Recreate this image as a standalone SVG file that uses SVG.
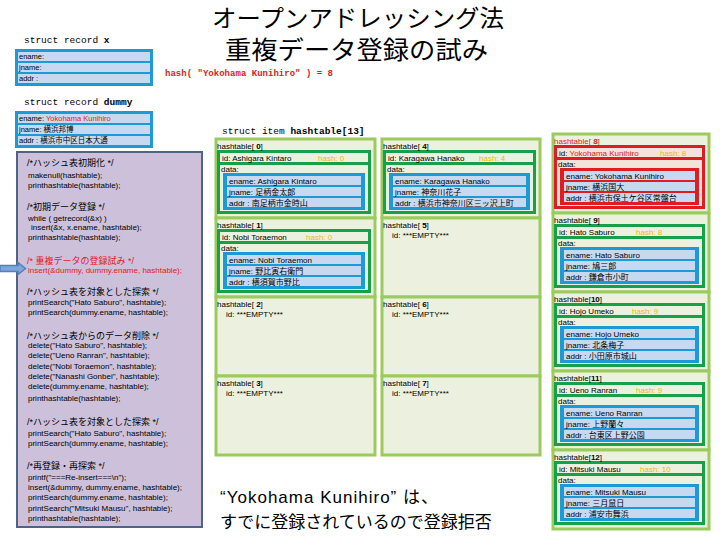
<svg xmlns="http://www.w3.org/2000/svg" width="720" height="540" viewBox="0 0 720 540">
<style>
.s{font-family:"Liberation Sans","Noto Sans CJK JP",sans-serif;fill:#000}
.m{font-family:"Liberation Mono","Noto Sans CJK JP",monospace;fill:#000}
.j{font-family:"Noto Sans CJK JP",sans-serif;fill:#000}
.ct{font-size:8px}
.cm{font-size:9px}
.cell{fill:#ebf1de;stroke:#9bcb5c;stroke-width:3}
.gb{fill:#ebf1de;stroke:#16a04a;stroke-width:3}
.gs{stroke:#16a04a;stroke-width:3}
.rb{fill:#f4e3d8;stroke:#e01b22;stroke-width:3}
.rs{stroke:#e01b22;stroke-width:3}
.bb{fill:#1c9ad6}
.rr{fill:#e01b22}
.row{fill:#c6d9f1}
.tx{font-size:8px}
.hs{fill:#f2b705}
.red{fill:#e01b22}
.code{fill:#ccc0da;stroke:#4e6486;stroke-width:2}
</style>
<rect width="720" height="540" fill="#fff"/>

<g id="title">
<text class="j" x="212" y="27" font-size="24" textLength="292" lengthAdjust="spacingAndGlyphs">オープンアドレッシング法</text>
<text class="j" x="225" y="59" font-size="25" textLength="263" lengthAdjust="spacingAndGlyphs">重複データ登録の試み</text>
<text class="m red" x="165" y="76" font-size="9" font-weight="bold" textLength="168">hash( "Yokohama Kunihiro" ) = 8</text>
</g>

<g id="record_x">
<text class="m" x="24" y="43" font-size="9.5">struct record <tspan font-weight="bold">x</tspan></text>
<rect class="bb" x="15" y="49" width="138" height="37"/>
<rect class="row" x="18" y="52" width="132" height="9"/>
<rect class="row" x="18" y="63" width="132" height="9"/>
<rect class="row" x="18" y="74" width="132" height="9"/>
<text class="s" x="19" y="59" font-size="7.5">ename:</text>
<text class="s" x="19" y="70" font-size="7.5">jname:</text>
<text class="s" x="19" y="81" font-size="7.5">addr :</text>
</g>

<g id="record_dummy">
<text class="m" x="24" y="105" font-size="9.5">struct record <tspan font-weight="bold">dummy</tspan></text>
<rect class="bb" x="15" y="111" width="138" height="37"/>
<rect class="row" x="18" y="114" width="132" height="9"/>
<rect class="row" x="18" y="125" width="132" height="9"/>
<rect class="row" x="18" y="136" width="132" height="9"/>
<text class="s" x="19" y="121" font-size="7.5">ename: <tspan class="red">Yokohama Kunihiro</tspan></text>
<text class="s" x="19" y="132" font-size="7.5">jname: 横浜邦博</text>
<text class="s" x="19" y="143" font-size="7.5">addr : 横浜市中区日本大通</text>
</g>

<g id="code">
<rect class="code" x="17" y="152" width="185" height="375"/>
<text class="s cm" x="27" y="166">/*ハッシュ表初期化 */</text>
<text class="s ct" x="28" y="178">makenull(hashtable);</text>
<text class="s ct" x="28" y="187.5">printhashtable(hashtable);</text>
<text class="s cm" x="27" y="209.5">/*初期データ登録 */</text>
<text class="s ct" x="28" y="220.5">while ( getrecord(&amp;x) )</text>
<text class="s ct" x="31" y="230">insert(&amp;x, x.ename, hashtable);</text>
<text class="s ct" x="28" y="240">printhashtable(hashtable);</text>
<text class="s cm red" x="27" y="263.5">/* 重複データの登録試み */</text>
<text class="s ct red" x="28" y="273">insert(&amp;dummy, dummy.ename, hashtable);</text>
<text class="s cm" x="27" y="295">/*ハッシュ表を対象とした探索 */</text>
<text class="s ct" x="28" y="305">printSearch("Hato Saburo", hashtable);</text>
<text class="s ct" x="28" y="315">printSearch(dummy.ename, hashtable);</text>
<text class="s cm" x="27" y="338.5">/*ハッシュ表からのデータ削除 */</text>
<text class="s ct" x="28" y="348">delete("Hato Saburo", hashtable);</text>
<text class="s ct" x="28" y="358">delete("Ueno Ranran", hashtable);</text>
<text class="s ct" x="28" y="368.5">delete("Nobi Toraemon", hashtable);</text>
<text class="s ct" x="28" y="379">delete("Nanashi Gonbei", hashtable);</text>
<text class="s ct" x="28" y="389">delete(dummy.ename, hashtable);</text>
<text class="s ct" x="28" y="401">printhashtable(hashtable);</text>
<text class="s cm" x="27" y="425">/*ハッシュ表を対象とした探索 */</text>
<text class="s ct" x="28" y="435.5">printSearch("Hato Saburo", hashtable);</text>
<text class="s ct" x="28" y="446">printSearch(dummy.ename, hashtable);</text>
<text class="s cm" x="27" y="468.5">/*再登録・再探索 */</text>
<text class="s ct" x="28" y="479.5">printf("===Re-insert===\n");</text>
<text class="s ct" x="28" y="489.5">insert(&amp;dummy, dummy.ename, hashtable);</text>
<text class="s ct" x="28" y="500">printSearch(dummy.ename, hashtable);</text>
<text class="s ct" x="28" y="510.5">printSearch("Mitsuki Mausu", hashtable);</text>
<text class="s ct" x="28" y="521">printhashtable(hashtable);</text>
</g>

<g id="connectors">
<polygon points="0,265.5 18,265.5 18,262.5 25.5,268.5 18,274.5 18,271.5 0,271.5" fill="#7fa6d6" stroke="#4f81bd" stroke-width="1.5"/>
</g>

<g id="hashtable_header">
<text class="m" x="222" y="134" font-size="9.5">struct item <tspan font-weight="bold">hashtable[13]</tspan></text>
</g>

<!-- Column 1 -->
<g id="ht0" transform="translate(215,139)">
<rect class="cell" x="1" y="0" width="159" height="79"/>
<rect class="gb" x="3.5" y="12.5" width="151" height="61"/>
<line class="gs" x1="2" y1="24.5" x2="156" y2="24.5"/>
<rect class="bb" x="8" y="34" width="142" height="37"/>
<rect class="row" x="12" y="37" width="134" height="9"/>
<rect class="row" x="12" y="48" width="134" height="9"/>
<rect class="row" x="12" y="59" width="134" height="9"/>
<text class="s tx" x="2" y="9.5">hashtable[ <tspan font-weight="bold">0</tspan>]</text>
<text class="s tx" x="7" y="21.5">id: Ashigara Kintaro</text>
<text class="s tx hs" x="103" y="21.5">hash: 0</text>
<text class="s tx" x="6" y="32.5">data:</text>
<text class="s tx" x="14" y="44.5">ename: Ashigara Kintaro</text>
<text class="s tx" x="14" y="55.5">jname: 足柄金太郎</text>
<text class="s tx" x="14" y="66.5">addr : 南足柄市金時山</text>
</g>
<g id="ht1" transform="translate(215,218)">
<rect class="cell" x="1" y="0" width="159" height="79"/>
<rect class="gb" x="3.5" y="12.5" width="151" height="61"/>
<line class="gs" x1="2" y1="24.5" x2="156" y2="24.5"/>
<rect class="bb" x="8" y="34" width="142" height="37"/>
<rect class="row" x="12" y="37" width="134" height="9"/>
<rect class="row" x="12" y="48" width="134" height="9"/>
<rect class="row" x="12" y="59" width="134" height="9"/>
<text class="s tx" x="2" y="9.5">hashtable[ <tspan font-weight="bold">1</tspan>]</text>
<text class="s tx" x="7" y="21.5">id: Nobi Toraemon</text>
<text class="s tx hs" x="91" y="21.5">hash: 0</text>
<text class="s tx" x="6" y="32.5">data:</text>
<text class="s tx" x="14" y="44.5">ename: Nobi Toraemon</text>
<text class="s tx" x="14" y="55.5">jname: 野比寅右衛門</text>
<text class="s tx" x="14" y="66.5">addr : 横須賀市野比</text>
</g>
<g id="ht2" transform="translate(215,297)">
<rect class="cell" x="1" y="0" width="159" height="79"/>
<text class="s tx" x="2" y="9.5">hashtable[ <tspan font-weight="bold">2</tspan>]</text>
<text class="s tx" x="11" y="19.5">id: ***EMPTY***</text>
</g>
<g id="ht3" transform="translate(215,376)">
<rect class="cell" x="1" y="0" width="159" height="79"/>
<text class="s tx" x="2" y="9.5">hashtable[ <tspan font-weight="bold">3</tspan>]</text>
<text class="s tx" x="11" y="19.5">id: ***EMPTY***</text>
</g>

<!-- Column 2 -->
<g id="ht4" transform="translate(381,139)">
<rect class="cell" x="1" y="0" width="158" height="79"/>
<rect class="gb" x="3.5" y="12.5" width="150" height="61"/>
<line class="gs" x1="2" y1="24.5" x2="155" y2="24.5"/>
<rect class="bb" x="8" y="34" width="141" height="37"/>
<rect class="row" x="12" y="37" width="133" height="9"/>
<rect class="row" x="12" y="48" width="133" height="9"/>
<rect class="row" x="12" y="59" width="133" height="9"/>
<text class="s tx" x="2" y="9.5">hashtable[ <tspan font-weight="bold">4</tspan>]</text>
<text class="s tx" x="7" y="21.5">id: Karagawa Hanako</text>
<text class="s tx hs" x="98" y="21.5">hash: 4</text>
<text class="s tx" x="6" y="32.5">data:</text>
<text class="s tx" x="14" y="44.5">ename: Karagawa Hanako</text>
<text class="s tx" x="14" y="55.5">jname: 神奈川花子</text>
<text class="s tx" x="14" y="66.5">addr : 横浜市神奈川区三ッ沢上町</text>
</g>
<g id="ht5" transform="translate(381,218)">
<rect class="cell" x="1" y="0" width="158" height="79"/>
<text class="s tx" x="2" y="9.5">hashtable[ <tspan font-weight="bold">5</tspan>]</text>
<text class="s tx" x="11" y="19.5">id: ***EMPTY***</text>
</g>
<g id="ht6" transform="translate(381,297)">
<rect class="cell" x="1" y="0" width="158" height="79"/>
<text class="s tx" x="2" y="9.5">hashtable[ <tspan font-weight="bold">6</tspan>]</text>
<text class="s tx" x="11" y="19.5">id: ***EMPTY***</text>
</g>
<g id="ht7" transform="translate(381,376)">
<rect class="cell" x="1" y="0" width="158" height="79"/>
<text class="s tx" x="2" y="9.5">hashtable[ <tspan font-weight="bold">7</tspan>]</text>
<text class="s tx" x="11" y="19.5">id: ***EMPTY***</text>
</g>

<!-- Column 3 -->
<g id="ht8" transform="translate(552,134)">
<rect class="cell" x="1" y="0" width="156" height="79"/>
<rect class="rb" x="3.5" y="12.5" width="148" height="61"/>
<line class="rs" x1="2" y1="24.5" x2="153" y2="24.5"/>
<rect class="rr" x="8" y="34" width="139" height="37"/>
<rect class="row" x="12" y="37" width="131" height="9"/>
<rect class="row" x="12" y="48" width="131" height="9"/>
<rect class="row" x="12" y="59" width="131" height="9"/>
<text class="s tx red" x="2" y="9.5">hashtable[ <tspan font-weight="bold">8</tspan>]</text>
<text class="s tx" x="7" y="21.5">id: <tspan class="red">Yokohama Kunihiro</tspan></text>
<text class="s tx hs" x="108" y="21.5">hash: 8</text>
<text class="s tx" x="6" y="32.5">data:</text>
<text class="s tx" x="14" y="44.5">ename: Yokohama Kunihiro</text>
<text class="s tx" x="14" y="55.5">jname: 横浜国大</text>
<text class="s tx" x="14" y="66.5">addr : 横浜市保土ケ谷区常盤台</text>
</g>
<g id="ht9" transform="translate(552,213)">
<rect class="cell" x="1" y="0" width="156" height="79"/>
<rect class="gb" x="3.5" y="12.5" width="148" height="61"/>
<line class="gs" x1="2" y1="24.5" x2="153" y2="24.5"/>
<rect class="bb" x="8" y="34" width="139" height="37"/>
<rect class="row" x="12" y="37" width="131" height="9"/>
<rect class="row" x="12" y="48" width="131" height="9"/>
<rect class="row" x="12" y="59" width="131" height="9"/>
<text class="s tx" x="2" y="9.5">hashtable[ <tspan font-weight="bold">9</tspan>]</text>
<text class="s tx" x="7" y="21.5">id: Hato Saburo</text>
<text class="s tx hs" x="84" y="21.5">hash: 8</text>
<text class="s tx" x="6" y="32.5">data:</text>
<text class="s tx" x="14" y="44.5">ename: Hato Saburo</text>
<text class="s tx" x="14" y="55.5">jname: 鳩三郎</text>
<text class="s tx" x="14" y="66.5">addr : 鎌倉市小町</text>
</g>
<g id="ht10" transform="translate(552,292)">
<rect class="cell" x="1" y="0" width="156" height="79"/>
<rect class="gb" x="3.5" y="12.5" width="148" height="61"/>
<line class="gs" x1="2" y1="24.5" x2="153" y2="24.5"/>
<rect class="bb" x="8" y="34" width="139" height="37"/>
<rect class="row" x="12" y="37" width="131" height="9"/>
<rect class="row" x="12" y="48" width="131" height="9"/>
<rect class="row" x="12" y="59" width="131" height="9"/>
<text class="s tx" x="2" y="9.5">hashtable[<tspan font-weight="bold">10</tspan>]</text>
<text class="s tx" x="7" y="21.5">id: Hojo Umeko</text>
<text class="s tx hs" x="80" y="21.5">hash: 9</text>
<text class="s tx" x="6" y="32.5">data:</text>
<text class="s tx" x="14" y="44.5">ename: Hojo Umeko</text>
<text class="s tx" x="14" y="55.5">jname: 北条梅子</text>
<text class="s tx" x="14" y="66.5">addr : 小田原市城山</text>
</g>
<g id="ht11" transform="translate(552,371)">
<rect class="cell" x="1" y="0" width="156" height="79"/>
<rect class="gb" x="3.5" y="12.5" width="148" height="61"/>
<line class="gs" x1="2" y1="24.5" x2="153" y2="24.5"/>
<rect class="bb" x="8" y="34" width="139" height="37"/>
<rect class="row" x="12" y="37" width="131" height="9"/>
<rect class="row" x="12" y="48" width="131" height="9"/>
<rect class="row" x="12" y="59" width="131" height="9"/>
<text class="s tx" x="2" y="9.5">hashtable[<tspan font-weight="bold">11</tspan>]</text>
<text class="s tx" x="7" y="21.5">id: Ueno Ranran</text>
<text class="s tx hs" x="84" y="21.5">hash: 9</text>
<text class="s tx" x="6" y="32.5">data:</text>
<text class="s tx" x="14" y="44.5">ename: Ueno Ranran</text>
<text class="s tx" x="14" y="55.5">jname: 上野蘭々</text>
<text class="s tx" x="14" y="66.5">addr : 台東区上野公園</text>
</g>
<g id="ht12" transform="translate(552,450)">
<rect class="cell" x="1" y="0" width="156" height="79"/>
<rect class="gb" x="3.5" y="12.5" width="148" height="61"/>
<line class="gs" x1="2" y1="24.5" x2="153" y2="24.5"/>
<rect class="bb" x="8" y="34" width="139" height="37"/>
<rect class="row" x="12" y="37" width="131" height="9"/>
<rect class="row" x="12" y="48" width="131" height="9"/>
<rect class="row" x="12" y="59" width="131" height="9"/>
<text class="s tx" x="2" y="9.5">hashtable[<tspan font-weight="bold">12</tspan>]</text>
<text class="s tx" x="7" y="21.5">id: Mitsuki Mausu</text>
<text class="s tx hs" x="88" y="21.5">hash: 10</text>
<text class="s tx" x="6" y="32.5">data:</text>
<text class="s tx" x="14" y="44.5">ename: Mitsuki Mausu</text>
<text class="s tx" x="14" y="55.5">jname: 三月鼠日</text>
<text class="s tx" x="14" y="66.5">addr : 浦安市舞浜</text>
</g>

<g id="note">
<text class="s" x="220" y="503" font-size="17" textLength="218" lengthAdjust="spacing">“Yokohama Kunihiro” は、</text>
<text class="j" x="220" y="528" font-size="17">すでに登録されているので登録拒否</text>
</g>
</svg>
